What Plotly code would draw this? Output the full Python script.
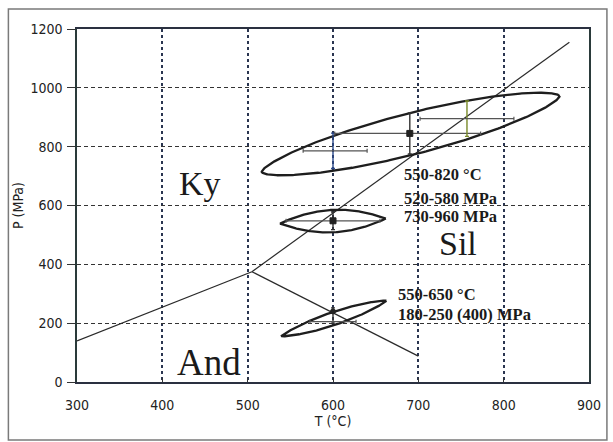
import numpy as np
import plotly.graph_objects as go

# Phase boundaries of the Al2SiO5 system (T in °C, P in MPa)
ky_and_T = [300, 505]
ky_and_P = [140, 375]
ky_sil_T = [505, 877]
ky_sil_P = [375, 1155]
and_sil_T = [505, 700]
and_sil_P = [375, 88]

# Uncertainty fields: centre, half-length, half-width (°C on screen), tilt (deg), tip sharpness
field_T = [691, 600, 601]
field_P = [843, 547, 216]
field_a = [180, 62, 65]
field_b = [24, 13, 7.5]
field_tilt = [14.2, 2.7, 18.5]
field_sharp = [0.25, 1.0, 0.6]

# Error crosses: centre and the four arm lengths
bar_T = [600, 690, 757, 600, 600, 600]
bar_P = [786, 845, 895, 548, 240, 205]
bar_T_minus = [35, 88, 55, 55, 0, 27]
bar_T_plus = [40, 83, 55, 55, 0, 27]
bar_P_minus = [60, 70, 60, 30, 40, 0]
bar_P_plus = [60, 70, 60, 30, 12, 0]
bar_marker = ["none", "square", "none", "square", "circle", "none"]
bar_vcolor = ["#2c4a8c", "#333333", "#7a8a2a", "#333333", "#333333", "#444444"]

# Text
field_labels = ["Ky", "Sil", "And"]
field_label_T = [444, 747, 455]
field_label_P = [676, 472, 65]
field_label_size = [34, 34, 37]
range_lines = ["550-820 °C", "520-580 MPa", "730-960 MPa", "550-650 °C", "180-250 (400) MPa"]
range_T = [681, 681, 681, 674, 674]
range_P = [704, 625, 561, 299, 228]

x_ticks = [300, 400, 500, 600, 700, 800, 900]
y_ticks = [0, 200, 400, 600, 800, 1000, 1200]

# screen aspect: MPa per °C that look equally long on the plot
X_RANGE = (300, 900)
Y_RANGE = (0, 1200)
PLOT_W, PLOT_H = 516, 353
mpa_per_deg = (PLOT_W / (X_RANGE[1] - X_RANGE[0])) / (PLOT_H / (Y_RANGE[1] - Y_RANGE[0]))

fig = go.Figure()

line_style = dict(color="#2a2a2a", width=1.2)
fig.add_trace(go.Scatter(x=ky_and_T, y=ky_and_P, mode="lines", line=line_style, hoverinfo="skip"))
fig.add_trace(go.Scatter(x=ky_sil_T, y=ky_sil_P, mode="lines", line=line_style, hoverinfo="skip"))
fig.add_trace(go.Scatter(x=and_sil_T, y=and_sil_P, mode="lines", line=line_style, hoverinfo="skip"))

t = np.linspace(0, 2 * np.pi, 361)
for T0, P0, a, b, tilt, q in zip(field_T, field_P, field_a, field_b, field_tilt, field_sharp):
    th = np.radians(tilt)
    u = a * np.cos(t)
    w = b * np.sin(t) * np.abs(np.sin(t)) ** q
    dx = u * np.cos(th) - w * np.sin(th)
    dy = u * np.sin(th) + w * np.cos(th)
    fig.add_trace(go.Scatter(x=T0 + dx, y=P0 + dy * mpa_per_deg, mode="lines",
                             line=dict(color="#1e1e1e", width=2.3), hoverinfo="skip"))

for i in range(len(bar_T)):
    sym = bar_marker[i]
    hidden = sym == "none"
    mcol = "rgba(0,0,0,0)" if hidden else "#222222"
    fig.add_trace(go.Scatter(
        x=[bar_T[i]], y=[bar_P[i]], mode="markers",
        marker=dict(symbol="square" if hidden else sym,
                    size=6 if sym == "square" else 5,
                    color=mcol, line=dict(color=mcol, width=1)),
        error_x=dict(type="data", symmetric=False, array=[bar_T_plus[i]], arrayminus=[bar_T_minus[i]],
                     color="#555555", thickness=1.2, width=2, visible=bar_T_plus[i] > 0),
        error_y=dict(type="data", symmetric=False, array=[bar_P_plus[i]], arrayminus=[bar_P_minus[i]],
                     color=bar_vcolor[i], thickness=1.4, width=2, visible=bar_P_plus[i] + bar_P_minus[i] > 0),
        hoverinfo="skip"))

for txt, x, y, s in zip(field_labels, field_label_T, field_label_P, field_label_size):
    fig.add_annotation(x=x, y=y, text=txt, showarrow=False,
                       font=dict(family="Liberation Serif, Times New Roman, serif", size=s, color="#1a1a1a"))

for txt, x, y in zip(range_lines, range_T, range_P):
    fig.add_annotation(x=x, y=y, text="<b>" + txt + "</b>", showarrow=False, xanchor="left",
                       font=dict(family="Liberation Serif, Times New Roman, serif", size=16.5, color="#1a1a1a"))

# outer frame around the whole figure
fig.add_shape(type="rect", xref="paper", yref="paper",
              x0=-0.134, x1=1.035, y0=-0.164, y1=1.057,
              line=dict(color="#7a7a7a", width=1.5), layer="below")

tick_font = dict(family="DejaVu Sans Condensed, Liberation Sans Narrow, Arial Narrow, sans-serif",
                 size=14, color="#222222")
fig.update_layout(
    width=613, height=442,
    margin=dict(l=77, r=20, t=29, b=60),
    paper_bgcolor="white", plot_bgcolor="white",
    showlegend=False,
    xaxis=dict(range=list(X_RANGE), tickvals=x_ticks, ticks="inside", ticklen=4, tickcolor="#333",
               showline=True, linecolor="#2a3040", linewidth=1.5, mirror=True,
               showgrid=True, gridcolor="#2a3550", gridwidth=2, griddash="dot",
               zeroline=False, tickfont=tick_font, ticklabelstandoff=9,
               title=dict(text="T (°C)", font=dict(family=tick_font["family"], size=14, color="#222"),
                          standoff=1)),
    yaxis=dict(range=list(Y_RANGE), tickvals=y_ticks, ticks="outside", ticklen=8, tickcolor="#333",
               showline=True, linecolor="#2a3a3a", linewidth=1.5, mirror=True,
               showgrid=True, gridcolor="#333333", gridwidth=1.3, griddash="4px,3px",
               zeroline=False, tickfont=tick_font, ticklabelstandoff=2,
               title=dict(text="P (MPa)", font=dict(family=tick_font["family"], size=14, color="#222"),
                          standoff=4)),
)

fig.write_html("out.html")
